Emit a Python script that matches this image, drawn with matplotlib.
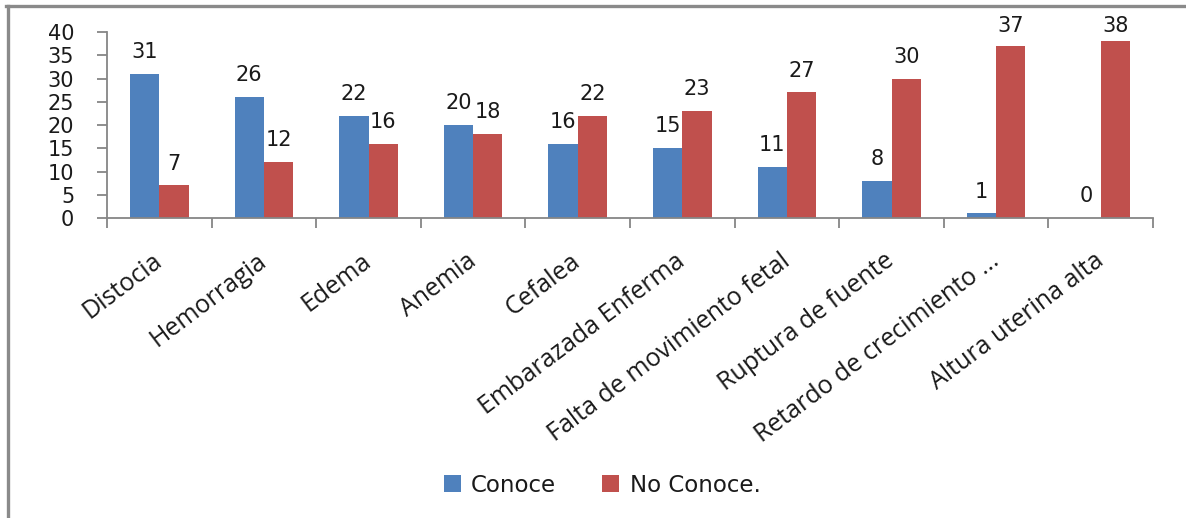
import matplotlib
matplotlib.use("Agg")
import matplotlib.pyplot as plt
from matplotlib.lines import Line2D
import numpy as np

categories = ["Distocia", "Hemorragia", "Edema", "Anemia", "Cefalea",
              "Embarazada Enferma", "Falta de movimiento fetal",
              "Ruptura de fuente", "Retardo de crecimiento ...",
              "Altura uterina alta"]
conoce = [31, 26, 22, 20, 16, 15, 11, 8, 1, 0]
no_conoce = [7, 12, 16, 18, 22, 23, 27, 30, 37, 38]
series_names = ["Conoce", "No Conoce."]
yticks = [0, 5, 10, 15, 20, 25, 30, 35, 40]

BLUE = "#4F81BD"
RED = "#C0504D"
AXIS_GRAY = "#868686"
TEXT = "#1a1a1a"

W, H = 1186, 518
fig = plt.figure(figsize=(W / 100, H / 100), dpi=100)
fig.patch.set_facecolor("white")

ax = fig.add_axes([107 / W, 1 - 218 / H, (1153 - 107) / W, (218 - 32) / H])

x = np.arange(len(categories))
bw = 0.28
b1 = ax.bar(x - bw / 2, conoce, bw, color=BLUE, label=series_names[0])
b2 = ax.bar(x + bw / 2, no_conoce, bw, color=RED, label=series_names[1])

ax.set_xlim(-0.5, len(categories) - 0.5)
ax.set_ylim(0, 40)

# value labels sit a fixed gap above each bar, but never above the plot top
num_font = dict(family="DejaVu Sans", size=15, color=TEXT)
ymax = ax.get_ylim()[1]
gap = 3.4
for bars, vals in ((b1, conoce), (b2, no_conoce)):
    for rect, v in zip(bars, vals):
        ax.text(rect.get_x() + rect.get_width() / 2, min(v + gap, ymax),
                str(v), ha="center", va="baseline", clip_on=False, **num_font)

ax.set_yticks(yticks)
ax.set_yticklabels([str(t) for t in yticks], **num_font)

# tick marks sit on the category boundaries; names hang from the centres
ax.set_xticks(np.arange(len(categories) + 1) - 0.5)
ax.set_xticklabels([])
ax.set_xticks(x - 0.07, minor=True)
ax.set_xticklabels(categories, minor=True, rotation=37, ha="right",
                   va="top", rotation_mode="anchor", family="Open Sans",
                   size=18, color=TEXT)
ax.tick_params(axis="x", which="minor", length=0, pad=22)
ax.tick_params(axis="x", which="major", length=7.5, width=1.3,
               color=AXIS_GRAY, direction="out")
ax.tick_params(axis="y", length=7.5, width=1.3, color=AXIS_GRAY, pad=16,
               direction="out")

for side in ("top", "right"):
    ax.spines[side].set_visible(False)
for side in ("left", "bottom"):
    ax.spines[side].set_color(AXIS_GRAY)
    ax.spines[side].set_linewidth(1.3)

leg = fig.legend(handles=[b1, b2], labels=series_names, loc="center",
                 bbox_to_anchor=(602 / W, 1 - 485 / H), ncol=2, frameon=False,
                 prop=dict(family="DejaVu Sans", size=16.5),
                 handlelength=0.75, handleheight=0.75, handletextpad=0.45,
                 columnspacing=2.0)
for t in leg.get_texts():
    t.set_color(TEXT)

# outer frame: left and top edges only
fig.add_artist(Line2D([7.5 / W, 7.5 / W], [0, 1 - 6 / H], transform=fig.transFigure,
                      color="#8a8a8a", linewidth=2.4))
fig.add_artist(Line2D([6 / W, 1], [1 - 6 / H, 1 - 6 / H], transform=fig.transFigure,
                      color="#8a8a8a", linewidth=2.4))

fig.savefig("out.png", dpi=100, facecolor="white")
